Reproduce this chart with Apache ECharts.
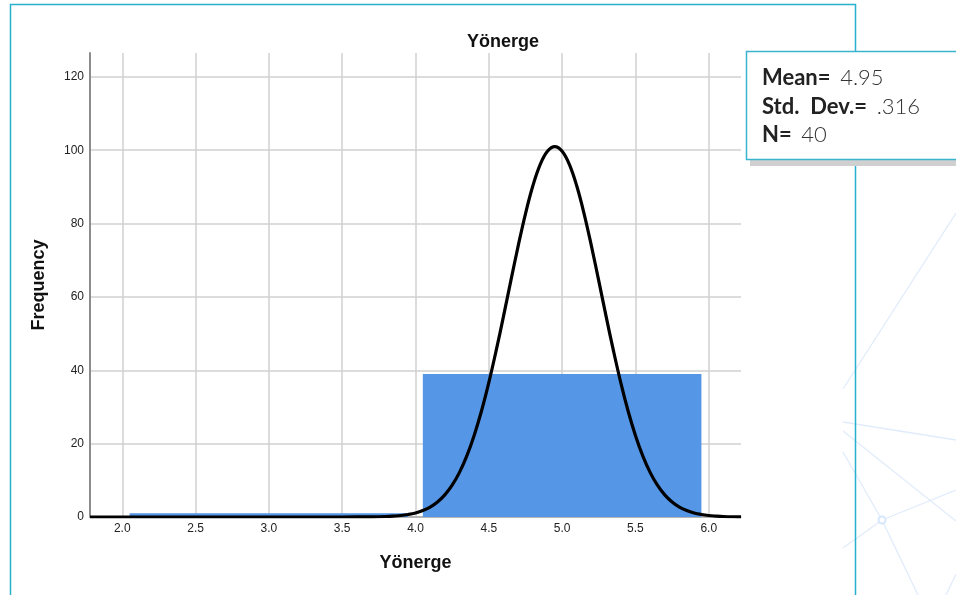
<!DOCTYPE html>
<html>
<head>
<meta charset="utf-8">
<script src="https://cdn.jsdelivr.net/npm/echarts@6/dist/echarts.min.js"></script>
<style>
  html, body { margin: 0; padding: 0; background: #fff; }
  #chart { width: 956px; height: 595px; }
</style>
</head>
<body>
<div id="chart"></div>
<script>
// histogram bins (visual edges) and counts
const binStart = [2.05, 4.05];
const binEnd = [3.95, 5.95];
const binCount = [1, 39];

// normal curve
const curveX = [1.78, 3.0, 3.5, 3.7, 3.8, 3.85, 3.9, 3.95, 4.0, 4.05, 4.1, 4.15, 4.2, 4.25, 4.3, 4.35,
  4.4, 4.45, 4.5, 4.55, 4.6, 4.65, 4.7, 4.75, 4.8, 4.85, 4.9, 4.95, 5.0, 5.05, 5.1, 5.15, 5.2, 5.25,
  5.3, 5.35, 5.4, 5.45, 5.5, 5.55, 5.6, 5.65, 5.7, 5.75, 5.8, 5.85, 5.9, 5.95, 6.0, 6.05, 6.1, 6.2, 6.22];
const curveY = [0, 0, 0, 0.04, 0.13, 0.24, 0.40, 0.68, 1.10, 1.75, 2.71, 4.10, 6.04, 8.69, 12.17, 16.64,
  22.21, 28.89, 36.64, 45.34, 54.69, 64.36, 73.86, 82.67, 90.23, 96.07, 99.74, 101.0, 99.74, 96.07, 90.23, 82.67, 73.86, 64.36,
  54.69, 45.34, 36.64, 28.89, 22.21, 16.64, 12.17, 8.69, 6.04, 4.10, 2.71, 1.75, 1.10, 0.68, 0.40, 0.24, 0.13, 0.04, 0.03];

const xTicks = [2.0, 2.5, 3.0, 3.5, 4.0, 4.5, 5.0, 5.5, 6.0];
const yTicks = [0, 20, 40, 60, 80, 100, 120];

const statNames = ['Mean=', 'Std.  Dev.=', 'N='];
const statValues = ['4.95', '.316', '40'];

const chart = echarts.init(document.getElementById('chart'), null, { renderer: 'canvas' });

const barData = binStart.map((s, i) => [s, binEnd[i], binCount[i]]);
const curveData = curveX.map((x, i) => [x, curveY[i]]);
const statText = statNames.map((n, i) => '{b|' + n + '} {v|' + statValues[i] + '}').join('\n');

const decoColor = '#e1ecfb';
function decoLine(points) {
  return {
    type: 'polyline',
    silent: true,
    z: 1,
    shape: { points: points },
    style: { stroke: decoColor, lineWidth: 1.3, fill: null }
  };
}

const nameFont = { fontFamily: 'Liberation Sans', fontSize: 18, fontWeight: 'bold', color: '#111' };

const option = {
  backgroundColor: '#fff',
  animation: false,
  title: {
    text: 'Yönerge',
    left: 498,
    top: 28,
    textAlign: 'center',
    textStyle: nameFont
  },
  grid: { left: 90, top: 53, width: 651, height: 464, containLabel: false },
  xAxis: {
    type: 'value',
    min: 1.78,
    max: 6.22,
    name: 'Yönerge',
    nameLocation: 'middle',
    nameGap: 37,
    nameTextStyle: nameFont,
    axisLine: { show: true, lineStyle: { color: '#a8a8a8', width: 1.5 } },
    axisTick: { show: false, customValues: xTicks },
    axisLabel: {
      customValues: xTicks,
      formatter: v => v.toFixed(1),
      fontFamily: 'Liberation Sans', fontSize: 12, color: '#222', margin: 6
    },
    splitLine: { show: true, lineStyle: { color: '#d0d0d0', width: 1.5 } }
  },
  yAxis: {
    type: 'value',
    min: 0,
    max: 126.5,
    name: 'Frequency',
    nameLocation: 'middle',
    nameGap: 42,
    nameTextStyle: nameFont,
    axisLine: { show: true, lineStyle: { color: '#8c8c8c', width: 2 } },
    axisTick: { show: false, customValues: yTicks },
    axisLabel: {
      customValues: yTicks,
      fontFamily: 'Liberation Sans', fontSize: 12, color: '#222', margin: 6
    },
    splitLine: { show: true, lineStyle: { color: '#d0d0d0', width: 1.5 } }
  },
  series: [
    {
      type: 'custom',
      name: 'Bins',
      data: barData,
      encode: { x: [0, 1], y: 2 },
      z: 2,
      renderItem: function (params, api) {
        const p0 = api.coord([api.value(0), api.value(2)]);
        const p1 = api.coord([api.value(1), 0]);
        return {
          type: 'rect',
          shape: { x: p0[0], y: p0[1], width: p1[0] - p0[0], height: p1[1] - p0[1] },
          style: { fill: '#5596e6' }
        };
      }
    },
    {
      type: 'line',
      name: 'Normal',
      data: curveData,
      smooth: 0.4,
      showSymbol: false,
      clip: true,
      z: 3,
      lineStyle: { color: '#000', width: 3.2 }
    }
  ],
  graphic: [
    decoLine([[843, 389], [956, 213]]),
    decoLine([[843, 422], [956, 440]]),
    decoLine([[843, 431], [956, 521]]),
    decoLine([[843, 452], [882, 520], [918, 595]]),
    decoLine([[882, 520], [956, 490]]),
    decoLine([[882, 520], [843, 548]]),
    decoLine([[956, 574], [946, 595]]),
    {
      type: 'circle', silent: true, z: 2,
      shape: { cx: 882, cy: 520, r: 3.5 },
      style: { fill: '#fff', stroke: '#d6e6fb', lineWidth: 2 }
    },
    {
      type: 'polyline', silent: true, z: 5,
      shape: { points: [[10.5, 600], [10.5, 4.5], [855.5, 4.5], [855.5, 600]] },
      style: { stroke: '#27b1cd', lineWidth: 1.5, fill: null }
    },
    {
      type: 'rect', silent: true, z: 6,
      shape: { x: 750, y: 160, width: 210, height: 6 },
      style: { fill: '#d0d0d0' }
    },
    {
      type: 'rect', silent: true, z: 7,
      shape: { x: 746.5, y: 51.5, width: 215, height: 108 },
      style: { fill: '#fff', stroke: '#3ab4cd', lineWidth: 1.5 }
    },
    {
      type: 'text', silent: true, z: 8,
      x: 762, y: 64,
      style: {
        text: statText,
        fontFamily: 'Lato',
        fontSize: 22,
        lineHeight: 28.5,
        fill: '#222',
        rich: {
          b: { fontFamily: 'Lato', fontWeight: 'bold', fontSize: 22, lineHeight: 28.5, fill: '#222' },
          v: { fontFamily: 'Lato', fontWeight: 300, fontSize: 22, lineHeight: 28.5, fill: '#333', padding: [0, 0, 0, 4] }
        }
      }
    }
  ]
};

chart.setOption(option);
</script>
</body>
</html>
